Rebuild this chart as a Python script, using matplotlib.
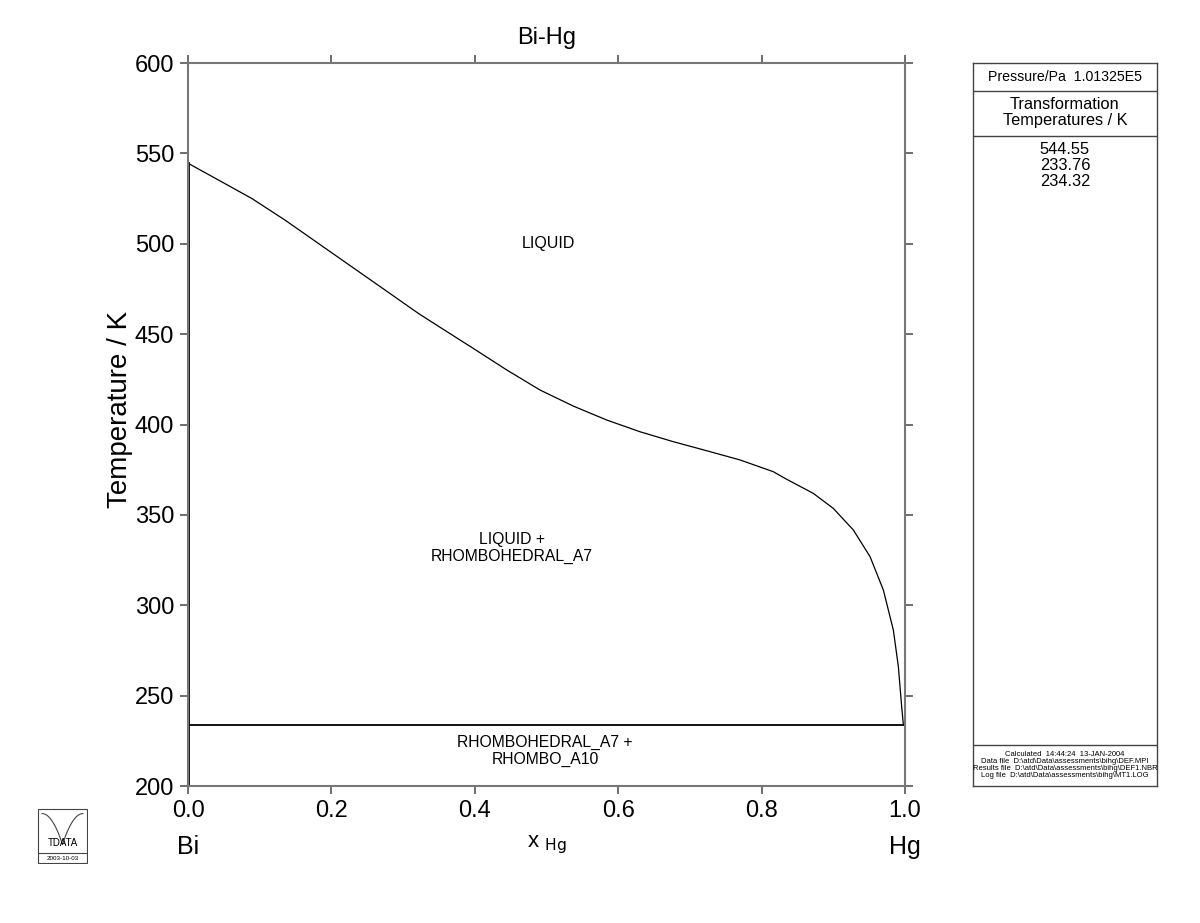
import numpy as np
import matplotlib.pyplot as plt
from matplotlib.patches import Rectangle

plt.rcParams['font.family'] = ['Liberation Sans', 'DejaVu Sans']

# liquidus
x_liq = [0.0, 0.0423, 0.0888, 0.1353, 0.1818, 0.2283, 0.2748, 0.3212, 0.3515,
         0.3979, 0.4445, 0.4909, 0.5374, 0.5839, 0.6304, 0.6769, 0.7234,
         0.7699, 0.8163, 0.8326, 0.8721, 0.9, 0.928, 0.9512, 0.9698, 0.9837,
         0.9907, 0.9953, 0.9977]
t_liq = [544.55, 535.3, 525.1, 513.1, 500.2, 487.3, 474.4, 461.5, 453.8,
         442.1, 430.2, 419.1, 410.2, 402.5, 396.0, 390.5, 385.5,
         380.4, 373.9, 370.2, 361.9, 353.6, 341.6, 326.9, 308.4, 286.3,
         266.0, 243.9, 233.76]
t_eut = 233.76
t_bi = 544.55
t_hg = 234.32
trans_temps = ['544.55', '233.76', '234.32']

fig = plt.figure(figsize=(12, 9.23), dpi=100)
ax = fig.add_axes([0.1567, 0.1484, 0.5975, 0.7833])

ax.plot(x_liq, t_liq, color='black', linewidth=0.9)
ax.plot([0, 1], [t_eut, t_eut], color='black', linewidth=1.3)
ax.plot([0, 0], [200, t_bi], color='black', linewidth=2.0)
ax.plot([1, 1], [200, t_hg], color='black', linewidth=2.0)

ax.set_xlim(0, 1)
ax.set_ylim(200, 600)
ax.set_xticks([0.0, 0.2, 0.4, 0.6, 0.8, 1.0])
ax.set_yticks(np.arange(200, 601, 50))
ax.tick_params(axis='both', direction='out', length=6, width=1.2, color='#555555',
               labelsize=17, top=True, right=True, pad=4)
for s in ax.spines.values():
    s.set_color('#777777')
    s.set_linewidth(1.5)

ax.set_title('Bi-Hg', fontsize=17, pad=14)
ax.set_ylabel('Temperature / K', fontsize=20)
ax.yaxis.set_label_coords(-0.077, 0.521)
ax.set_xlabel(r'x $_{\mathrm{Hg}}$', fontsize=16, labelpad=8)
ax.text(0.0, -0.085, 'Bi', transform=ax.transAxes, fontsize=18, ha='center', va='center')
ax.text(1.0, -0.085, 'Hg', transform=ax.transAxes, fontsize=18, ha='center', va='center')

ax.text(0.503, 500, 'LIQUID', fontsize=11.5, ha='center', va='center')
ax.text(0.452, 331.7, 'LIQUID +\nRHOMBOHEDRAL_A7', fontsize=11.3, ha='center', va='center')
ax.text(0.498, 219.5, 'RHOMBOHEDRAL_A7 +\nRHOMBO_A10', fontsize=11.3, ha='center', va='center')

# side panel
pan = fig.add_axes([0.8108, 0.1484, 0.1533, 0.7833])
pan.set_xlim(0, 1)
pan.set_ylim(787, 63)
pan.set_xticks([])
pan.set_yticks([])
for s in pan.spines.values():
    s.set_color('#444444')
    s.set_linewidth(1.0)
for yy in [91, 136, 746]:
    pan.axhline(yy, color='#444444', linewidth=1.0)
pan.text(0.5, 77, 'Pressure/Pa  1.01325E5', fontsize=10.2, ha='center', va='center')
pan.text(0.5, 113, 'Transformation\nTemperatures / K', fontsize=11.8, ha='center',
         va='center', linespacing=1.08)
pan.text(0.5, 166, '\n'.join(trans_temps), fontsize=11.8, ha='center', va='center',
         linespacing=1.08)
pan.text(0.5, 766, 'Calculated  14:44:24  13-JAN-2004\n'
         'Data file  D:\\atd\\Data\\assessments\\bihg\\DEF.MPI\n'
         'Results file  D:\\atd\\Data\\assessments\\bihg\\DEF1.NBR\n'
         'Log file  D:\\atd\\Data\\assessments\\bihg\\MT1.LOG',
         fontsize=5.5, ha='center', va='center', linespacing=1.05)

# logo
lg = fig.add_axes([37 / 1200, 1 - 864 / 923, 51 / 1200, 56 / 923])
lg.set_xlim(0, 1)
lg.set_ylim(0, 1)
lg.axis('off')
lg.add_patch(Rectangle((0.02, 0.02), 0.96, 0.96, fill=False, edgecolor='#444444', linewidth=0.8))
lg.plot([0.02, 0.98], [0.2, 0.2], color='#444444', linewidth=0.8)
tt = np.linspace(0, 1, 30)
lg.plot(0.1 + 0.4 * tt, 0.9 - 0.55 * tt ** 2, color='#444444', linewidth=0.8)
lg.plot(0.9 - 0.4 * tt, 0.9 - 0.55 * tt ** 2, color='#444444', linewidth=0.8)
lg.text(0.5, 0.38, 'TDATA', fontsize=7, ha='center', va='center')
lg.text(0.5, 0.1, '2003-10-03', fontsize=4.5, ha='center', va='center')

fig.savefig('out.png', dpi=100)
